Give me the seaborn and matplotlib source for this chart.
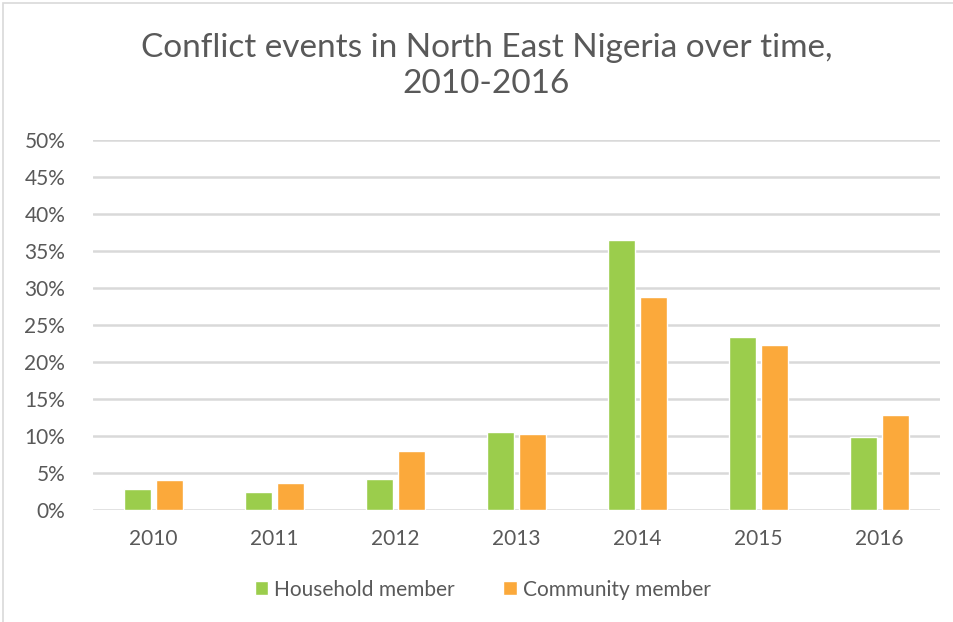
import pandas as pd
import seaborn as sns
import matplotlib.pyplot as plt
from matplotlib.patches import Rectangle
from matplotlib.ticker import PercentFormatter

years = ["2010", "2011", "2012", "2013", "2014", "2015", "2016"]
household = [2.9, 2.5, 4.2, 10.6, 36.5, 23.4, 9.9]
community = [4.1, 3.7, 8.0, 10.3, 28.8, 22.3, 12.9]
series_names = ["Household member", "Community member"]
colors = ["#9BCD4C", "#FBA93B"]

df = pd.DataFrame({
    "year": years * 2,
    "value": household + community,
    "series": [series_names[0]] * len(years) + [series_names[1]] * len(years),
})

sns.set_style("white")
plt.rcParams["font.family"] = ["Lato", "DejaVu Sans"]
text_color = "#595959"

fig = plt.figure(figsize=(9.54, 6.22), dpi=100)
ax = fig.add_axes([0.0975, 0.18, 0.888, 0.595])

sns.barplot(data=df, x="year", y="value", hue="series", palette=colors,
            width=0.52, gap=0.14, saturation=1, ax=ax, legend=True)

ax.set_ylim(0, 50)
ax.set_yticks(range(0, 51, 5))
ax.yaxis.set_major_formatter(PercentFormatter(decimals=0))
ax.grid(axis="y", color="#D9D9D9", linewidth=1.8)
ax.set_axisbelow(True)
for s in ax.spines.values():
    s.set_visible(False)
ax.tick_params(axis="both", length=0, labelsize=15, colors=text_color)
ax.tick_params(axis="y", pad=20)
ax.tick_params(axis="x", pad=14)
ax.set_xlabel("")
ax.set_ylabel("")

fig.suptitle("Conflict events in North East Nigeria over time,\n2010-2016",
             x=0.51, y=0.947, fontsize=24, color=text_color, linespacing=1.25)

ax.legend(loc="center", bbox_to_anchor=(0.46, -0.215), ncol=2, frameon=False,
          fontsize=15, labelcolor=text_color, handlelength=0.65, handleheight=0.65,
          handletextpad=0.3, columnspacing=2.3)

fig.patches.append(Rectangle((0.003, -0.01), 1.5, 1.005, transform=fig.transFigure,
                             fill=False, edgecolor="#D9D9D9", linewidth=1.2))

fig.savefig("out.png", dpi=100)
